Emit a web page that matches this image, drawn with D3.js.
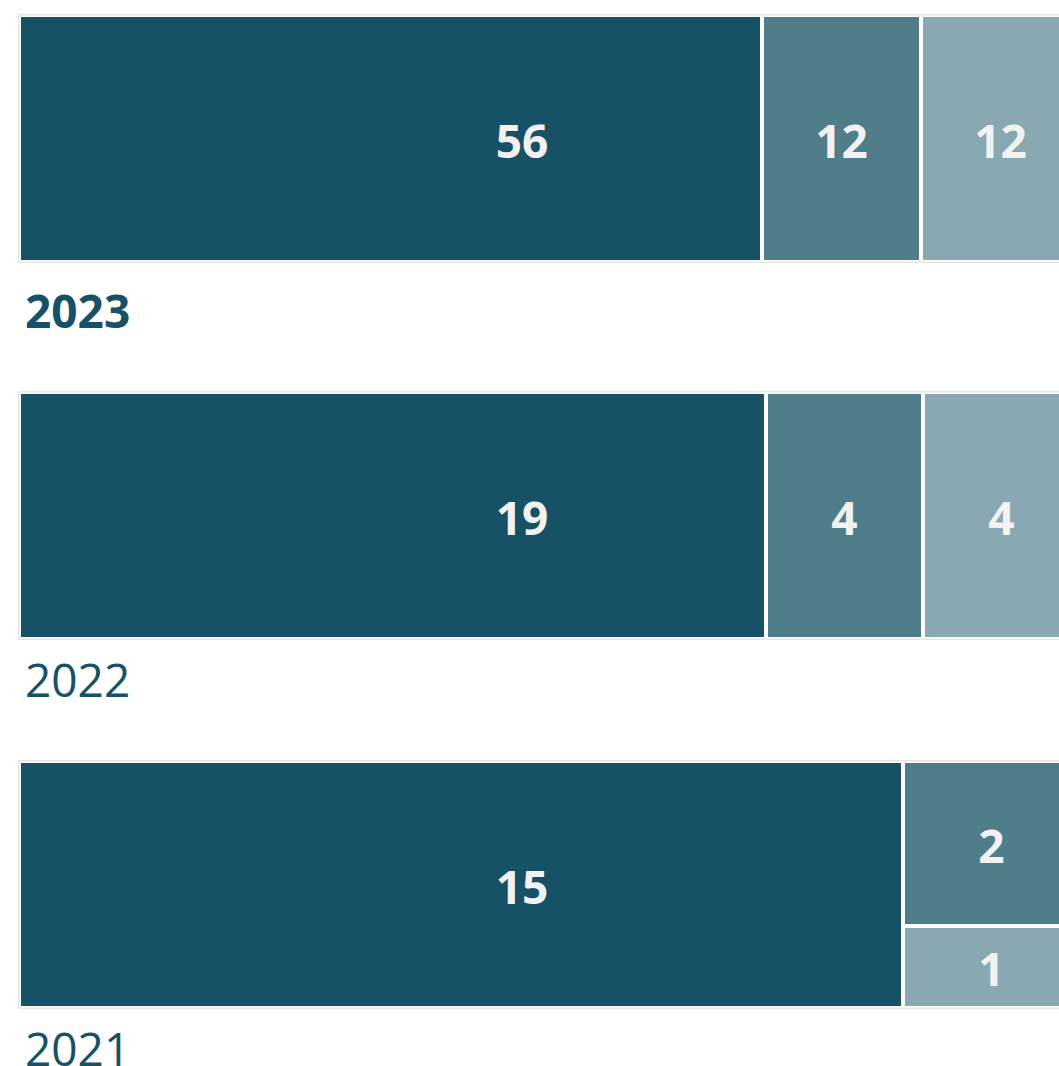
<!DOCTYPE html>
<html>
<head>
<meta charset="utf-8">
<script src="https://cdn.jsdelivr.net/npm/d3@7"></script>
<style>
  html, body { margin: 0; padding: 0; background: #fff; overflow: hidden; }
  svg { display: block; font-family: "Open Sans", "Noto Sans", sans-serif; }
</style>
</head>
<body>
<svg id="chart" width="1059" height="1066"></svg>
<script>
// ---- data ----
const years = ["2023", "2022", "2021"];
const categories = ["Category A", "Category B", "Category C"];
const values2023 = [56, 12, 12];
const values2022 = [19, 4, 4];
const values2021 = [15, 2, 1];
const valuesByYear = { "2023": values2023, "2022": values2022, "2021": values2021 };
const selectedYear = "2023";

// ---- styles ----
const colors = ["#165166", "#4f7d8a", "#8aa8b2"];
const textColor = "#165166";

const svg = d3.select("#chart");

const tmWidth = 1063, tmHeight = 249, tmLeft = 18, topStart = 14;
const panelHeight = 369, selectedExtra = 8, labelGap = 57;
const color = d3.scaleOrdinal().domain(categories).range(colors);
const labelMid = 522;

// cumulative panel tops (selected panel has a slightly larger label block)
const panelHeights = years.map(y => panelHeight + (y === selectedYear ? selectedExtra : 0));
const tops = years.map((y, i) => topStart + d3.sum(panelHeights.slice(0, i)));
const yPos = d3.scaleOrdinal().domain(years).range(tops);

years.forEach(year => {
  const vals = valuesByYear[year];
  const root = d3.hierarchy({ children: categories.map((c, i) => ({ name: c, value: vals[i] })) })
    .sum(d => d.value || 0)
    .sort((a, b) => b.value - a.value);
  d3.treemap()
    .tile(d3.treemapSquarify.ratio(1))
    .size([tmWidth, tmHeight])
    .paddingOuter(3)
    .paddingInner(4)
    .round(true)(root);

  const g = svg.append("g").attr("transform", `translate(${tmLeft},${yPos(year)})`);

  g.append("rect")
    .attr("x", root.x0 + 0.75).attr("y", root.y0 + 0.75)
    .attr("width", root.x1 - root.x0 - 1.5).attr("height", root.y1 - root.y0 - 1.5)
    .attr("fill", "#fff")
    .attr("stroke", "#e6e6e6")
    .attr("stroke-width", 1.5);

  const leaves = g.selectAll("g.leaf").data(root.leaves()).join("g").attr("class", "leaf");
  leaves.append("rect")
    .attr("x", d => d.x0).attr("y", d => d.y0)
    .attr("width", d => d.x1 - d.x0).attr("height", d => d.y1 - d.y0)
    .attr("fill", d => color(d.data.name));

  leaves.append("text")
    .attr("x", d => Math.max((d.x0 + d.x1) / 2, labelMid - tmLeft))
    .attr("y", d => (d.y0 + d.y1) / 2)
    .attr("dy", "0.42em")
    .attr("text-anchor", "middle")
    .attr("fill", "#f2f2f2")
    .attr("font-size", 46)
    .attr("font-weight", 700)
    .text(d => d.data.value);

  g.append("text")
    .attr("x", 7)
    .attr("y", tmHeight + labelGap + (year === selectedYear ? selectedExtra : 0))
    .attr("fill", textColor)
    .attr("font-size", 46)
    .attr("font-weight", year === selectedYear ? 700 : 400)
    .text(year);
});
</script>
</body>
</html>
